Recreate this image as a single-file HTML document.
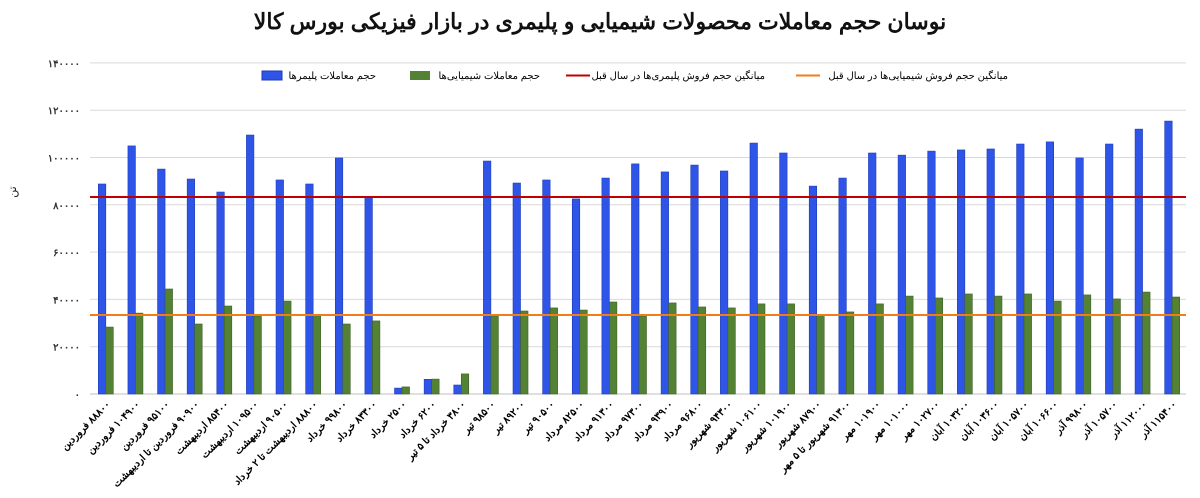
<!DOCTYPE html>
<html><head><meta charset="utf-8">
<style>
html,body{margin:0;padding:0;background:#fff;width:1200px;height:498px;overflow:hidden}
svg{display:block}
text{font-family:"Liberation Sans","Noto Sans CJK SC",sans-serif}
</style></head>
<body>
<svg id="c" width="1200" height="498" xmlns="http://www.w3.org/2000/svg">
<text x="600" y="29" text-anchor="middle" font-size="22" font-weight="bold" fill="#111" direction="rtl">نوسان حجم معاملات محصولات شیمیایی و پلیمری در بازار فیزیکی بورس کالا</text>
<text transform="translate(16,192) rotate(-90)" font-size="11" text-anchor="middle" fill="#222">تن</text>
<g id="g"></g>
</svg>
<script>
var blue=[88800,104900,95100,90900,85400,109500,90500,88800,99800,83300,2500,6200,3800,98500,89200,90500,82500,91300,97300,93900,96800,94300,106100,101900,87900,91300,101900,101000,102700,103200,103600,105700,106600,99800,105700,112000,115400];
var green=[28300,34200,44400,29600,37200,33000,39300,33400,29600,30900,3000,6300,8500,33000,35100,36400,35500,38900,33000,38500,36800,36400,38100,38100,33400,34700,38100,41400,40600,42300,41400,42300,39300,41900,40200,43100,41000];
var months=["فروردین","فروردین","فروردین","فروردین تا اردیبهشت","اردیبهشت","اردیبهشت","اردیبهشت","اردیبهشت تا ۲ خرداد","خرداد","خرداد","خرداد","خرداد","خرداد تا ۵ تیر","تیر","تیر","تیر","مرداد","مرداد","مرداد","مرداد","مرداد","شهریور","شهریور","شهریور","شهریور","شهریور تا ۵ مهر","مهر","مهر","مهر","آبان","آبان","آبان","آبان","آذر","آذر","آذر","آذر"];
function fa(n){return String(n).replace(/\d/g,function(d){return "۰۱۲۳۴۵۶۷۸۹"[d];});}
var y0=394,k=47.3/20000,x0=90,x1=1186,n=37,w=(x1-x0)/n;
var s="";
for(var i=0;i<=7;i++){var y=y0-i*20000*k;
 if(i>0)s+='<line x1="'+x0+'" x2="'+x1+'" y1="'+y+'" y2="'+y+'" stroke="#d9d9d9" stroke-width="1"/>';
 s+='<text x="80" y="'+(y+4)+'" text-anchor="end" font-size="10" font-weight="bold" fill="#333">'+fa(i*20000)+'</text>';}
s+='<line x1="'+x0+'" x2="'+x1+'" y1="'+y0+'" y2="'+y0+'" stroke="#bfbfbf"/>';
for(var i=0;i<n;i++){var cx=x0+w*i+w/2+1;
 var hb=blue[i]*k,hg=green[i]*k;
 s+='<rect x="'+(cx-7.5)+'" y="'+(y0-hb)+'" width="7.5" height="'+hb+'" fill="#2f55e8" stroke="#1d3bb5" stroke-width="0.6"/>';
 s+='<rect x="'+cx+'" y="'+(y0-hg)+'" width="7.5" height="'+hg+'" fill="#548235" stroke="#3d6125" stroke-width="0.6"/>';
 s+='<text transform="translate('+(cx+5)+',405) rotate(-45)" text-anchor="start" font-size="10" font-weight="bold" fill="#000" direction="rtl">'+fa(Math.round(blue[i]))+' '+months[i]+'</text>';}
var yr=y0-83300*k,yo=y0-33400*k;
s+='<line x1="'+x0+'" x2="'+x1+'" y1="'+yr+'" y2="'+yr+'" stroke="#c00000" stroke-width="2"/>';
s+='<line x1="'+x0+'" x2="'+x1+'" y1="'+yo+'" y2="'+yo+'" stroke="#f07d1a" stroke-width="2"/>';
// legend
s+='<rect x="262" y="71" width="20" height="9" fill="#2f55e8" stroke="#1d3bb5"/>';
s+='<text x="376" y="79" text-anchor="start" font-size="10" fill="#000" direction="rtl">حجم معاملات پلیمرها</text>';
s+='<rect x="410" y="71" width="20" height="9" fill="#548235"/>';
s+='<text x="540" y="79" text-anchor="start" font-size="10" fill="#000" direction="rtl">حجم معاملات شیمیایی‌ها</text>';
s+='<line x1="566" x2="590" y1="75.5" y2="75.5" stroke="#c00000" stroke-width="2"/>';
s+='<text x="765" y="79" text-anchor="start" font-size="10" fill="#000" direction="rtl">میانگین حجم فروش پلیمری‌ها در سال قبل</text>';
s+='<line x1="796" x2="820" y1="75.5" y2="75.5" stroke="#f07d1a" stroke-width="2"/>';
s+='<text x="1008" y="79" text-anchor="start" font-size="10" fill="#000" direction="rtl">میانگین حجم فروش شیمیایی‌ها در سال قبل</text>';
document.getElementById("g").innerHTML=s;
</script>
</body></html>
